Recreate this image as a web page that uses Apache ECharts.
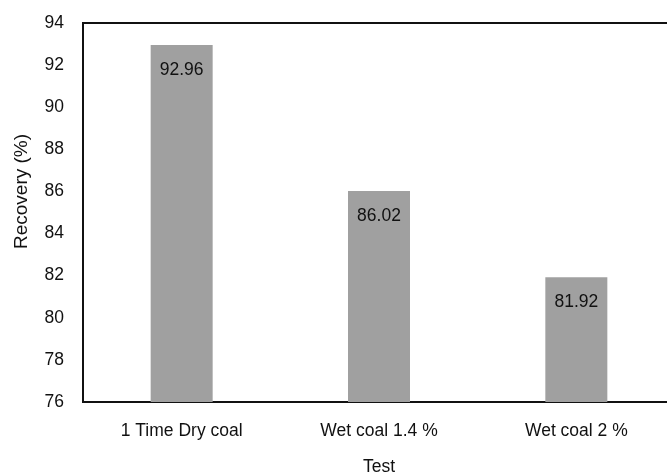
<!DOCTYPE html>
<html>
<head>
<meta charset="utf-8">
<script src="https://cdn.jsdelivr.net/npm/echarts@6/dist/echarts.min.js"></script>
<style>
  html, body { margin: 0; padding: 0; background: #fff; }
  #chart { width: 667px; height: 474px; }
</style>
</head>
<body>
<div id="chart"></div>
<script>
// Recovery per test condition
const categories = ['1 Time Dry coal', 'Wet coal 1.4 %', 'Wet coal 2 %'];
const recovery = [92.96, 86.02, 81.92];
const yMin = 76;
const yMax = 94;
const yStep = 2;

const font = 'Liberation Sans, Arial, sans-serif';
const textColor = '#111111';

const chart = echarts.init(document.getElementById('chart'), null, { renderer: 'canvas' });
chart.setOption({
  animation: false,
  backgroundColor: '#ffffff',
  grid: {
    left: 83,
    top: 23,
    width: 592,
    bottom: 72,
    containLabel: false,
    outerBoundsMode: 'none',
    show: true,
    borderColor: '#111',
    borderWidth: 2,
    backgroundColor: 'transparent'
  },
  xAxis: {
    type: 'category',
    data: categories,
    name: 'Test',
    nameLocation: 'middle',
    nameGap: 56,
    nameTextStyle: { fontFamily: font, fontSize: 17.5, color: textColor },
    axisLine: { show: true, lineStyle: { color: '#111', width: 2 } },
    axisTick: { show: false },
    axisLabel: { fontFamily: font, fontSize: 17.5, color: textColor, margin: 20 },
    splitLine: { show: false }
  },
  yAxis: {
    type: 'value',
    min: yMin,
    max: yMax,
    interval: yStep,
    name: 'Recovery (%)',
    nameLocation: 'middle',
    nameRotate: 90,
    nameGap: 52,
    // left padding lifts the rotated title a little above the axis centre
    nameTextStyle: { fontFamily: font, fontSize: 19, color: textColor, padding: [0, 0, 0, 42] },
    axisLine: { show: true, lineStyle: { color: '#111', width: 2 } },
    axisTick: { show: false },
    axisLabel: { fontFamily: font, fontSize: 17.5, color: textColor, margin: 19 },
    splitLine: { show: false }
  },
  series: [{
    type: 'bar',
    data: recovery,
    barWidth: 62,
    itemStyle: { color: '#a0a0a0' },
    label: {
      show: true,
      position: 'insideTop',
      distance: 16,
      fontFamily: font,
      fontSize: 17.5,
      color: textColor,
      formatter: p => p.value.toFixed(2)
    }
  }]
});
</script>
</body>
</html>
